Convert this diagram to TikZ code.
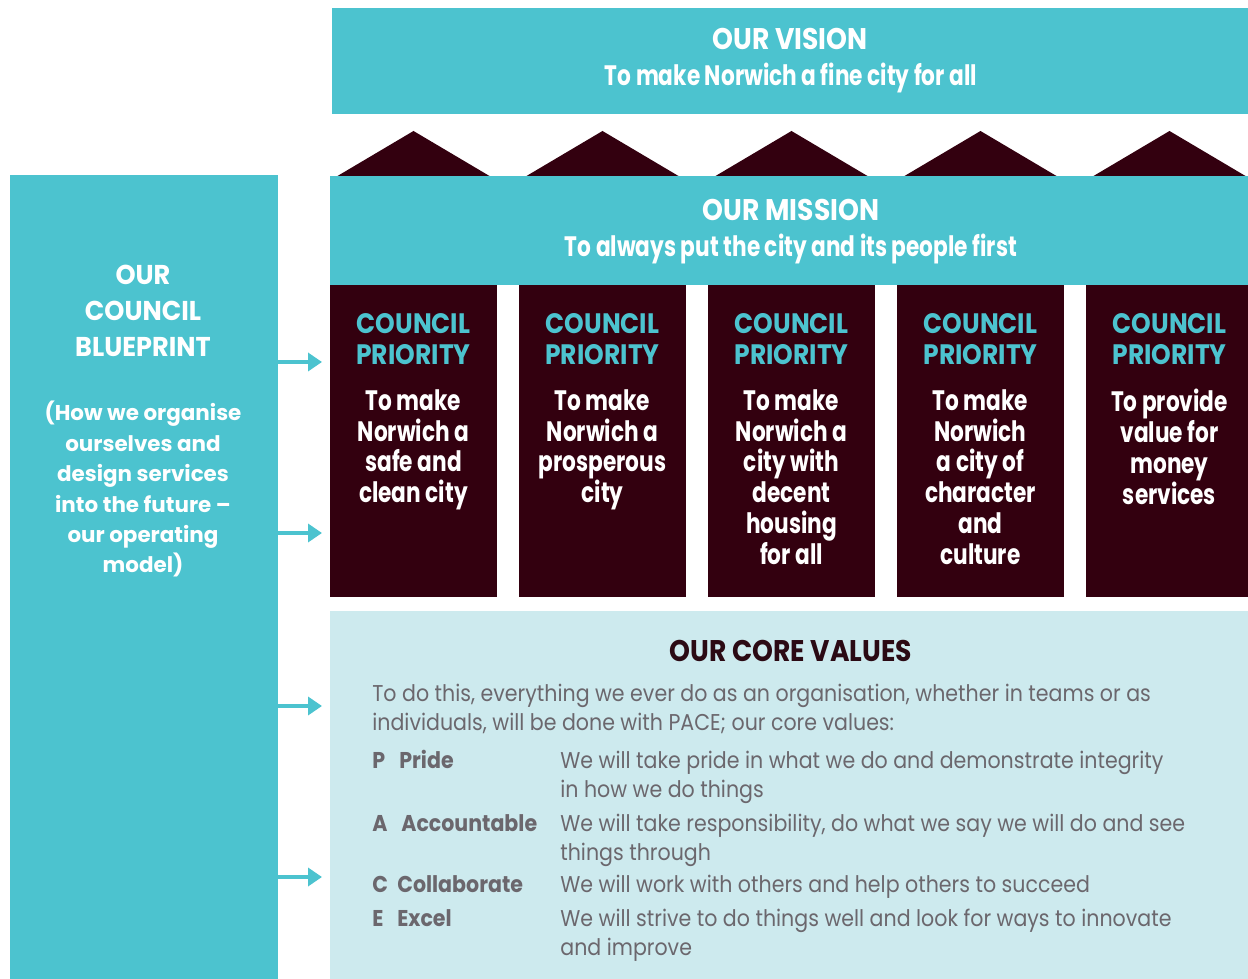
\documentclass[tikz,border=0pt]{standalone}
\usepackage{fontspec}
\setmainfont{Poppins}[FakeStretch=0.77]
\newfontfamily\headfont{Poppins}[FakeStretch=0.89]
\newfontfamily\bpfont{Poppins}[FakeStretch=0.94]
\newfontfamily\plainfont{Poppins}
\newfontfamily\valuefont{Poppins}[FakeStretch=0.9]
\usetikzlibrary{arrows.meta}
\definecolor{teal1}{HTML}{4CC3CF}
\definecolor{maroon1}{HTML}{33000F}
\definecolor{pale}{HTML}{CDEAEE}
\definecolor{greytext}{HTML}{6B676D}
\definecolor{darktitle}{HTML}{2B0A14}
\tikzset{%
    band/.style={inner sep=0pt,outer sep=0pt,shape=rectangle,fill=teal1,anchor=north west},
    pillar/.style={inner sep=0pt,outer sep=0pt,shape=rectangle,fill=maroon1,anchor=north west,minimum width=3.34cm,minimum height=6.24cm},
    headtext/.style={inner sep=0pt,anchor=base,text=white,font=\headfont\bfseries\fontsize{17}{20}\selectfont},
    subtext/.style={inner sep=0pt,anchor=base,text=white,font=\bfseries\fontsize{16}{20}\selectfont},
    prioritytitle/.style={inner sep=0pt,anchor=north,align=center,text=teal1,font=\headfont\bfseries\fontsize{16}{17.6}\selectfont},
    prioritytext/.style={inner sep=0pt,anchor=north,align=center,text=white,font=\bfseries\fontsize{16}{17.6}\selectfont},
    valuetext/.style={inner sep=0pt,anchor=north west,align=left,text=greytext,font=\valuefont\fontsize{13}{16.2}\selectfont},
    valuename/.style={inner sep=0pt,anchor=base west,text=greytext,font=\valuefont\bfseries\fontsize{13}{16.2}\selectfont},
    feed/.style={-{Triangle[length=0.28cm,width=0.36cm]},line width=0.09cm,draw=teal1,shorten >=0.16cm},
}
\begin{document}
\begin{tikzpicture}[x=0.02cm,y=-0.02cm]
    \useasboundingbox (0,0) rectangle (1248,979);
    \node[band,minimum width=18.32cm,minimum height=2.12cm] (vision) at (332,8) {};
    \node[headtext] (visiontitle) at (790,50) {OUR VISION};
    \node[subtext] (visionsub) at (791,86) {To make Norwich a fine city for all};

    \foreach \i in {0,...,4}
        \fill[maroon1] (413.5+189*\i,131) -- ++(-76,45) -- ++(152,0) -- cycle;

    \node[band,minimum width=18.36cm,minimum height=2.18cm] (mission) at (330,176) {};
    \node[headtext] (missiontitle) at (791,221) {OUR MISSION};
    \node[subtext] (missionsub) at (791,257) {To always put the city and its people first};

    \foreach \i/\txt in {0/{To make\\Norwich a\\safe and\\clean city},1/{To make\\Norwich a\\prosperous\\city},2/{To make\\Norwich a\\city with\\decent\\housing\\for all},3/{To make\\Norwich\\a city of\\character\\and\\culture},4/{To provide\\value for\\money\\services}}{
        \node[pillar] (pillar\i) at (330+189*\i,285) {};
        \node[prioritytitle] (ptitle\i) at (413.5+189*\i,313) {COUNCIL\\PRIORITY};
        \node[prioritytext] (ptext\i) at (413.5+189*\i,389) {\txt};
    }

    \node[inner sep=0pt,outer sep=0pt,shape=rectangle,fill=pale,anchor=north west,minimum width=18.36cm,minimum height=7.5cm] (core) at (330,611) {};
    \node[inner sep=0pt,anchor=base,text=darktitle,font=\headfont\bfseries\fontsize{17}{20}\selectfont] (coretitle) at (791,662) {OUR CORE VALUES};
    \node[valuetext] (coreintro) at (372,684) {To do this, everything we ever do as an organisation, whether in teams or as\\individuals, will be done with PACE; our core values:};

    \node[valuename] (pletter) at (372,768) {P};
    \node[valuename] (pname) at (399,768) {Pride};
    \node[valuetext] (ptextv) at (560,751) {We will take pride in what we do and demonstrate integrity\\in how we do things};
    \node[valuename] (aletter) at (372,831) {A};
    \node[valuename] (aname) at (401,831) {Accountable};
    \node[valuetext] (atextv) at (560,814) {We will take responsibility, do what we say we will do and see\\things through};
    \node[valuename] (cletter) at (372,892) {C};
    \node[valuename] (cname) at (397,892) {Collaborate};
    \node[valuetext] (ctextv) at (560,875) {We will work with others and help others to succeed};
    \node[valuename] (eletter) at (372,926) {E};
    \node[valuename] (ename) at (397,926) {Excel};
    \node[valuetext] (etextv) at (560,909) {We will strive to do things well and look for ways to innovate\\and improve};

    \node[band,minimum width=5.36cm,minimum height=16.2cm] (blueprint) at (10,175) {};
    \node[inner sep=0pt,anchor=north,align=center,text=white,font=\bpfont\bfseries\fontsize{15.5}{20.4}\selectfont] (bptitle) at (143,265) {OUR\\COUNCIL\\BLUEPRINT};
    \node[inner sep=0pt,anchor=north,align=center,text=white,font=\plainfont\bfseries\fontsize{12.2}{17.3}\selectfont] (bptext) at (143,401) {(How we organise\\ourselves and\\design services\\into the future –\\our operating\\model)};

    \coordinate (arr1) at (278,362);
    \coordinate (arr2) at (278,533);
    \coordinate (arr3) at (278,706);
    \coordinate (arr4) at (278,877);
    \draw[feed] (arr1) -- (arr1 -| pillar0.west);
    \draw[feed] (arr2) -- (arr2 -| pillar0.west);
    \draw[feed] (arr3) -- (arr3 -| core.west);
    \draw[feed] (arr4) -- (arr4 -| core.west);
\end{tikzpicture}
\end{document}
